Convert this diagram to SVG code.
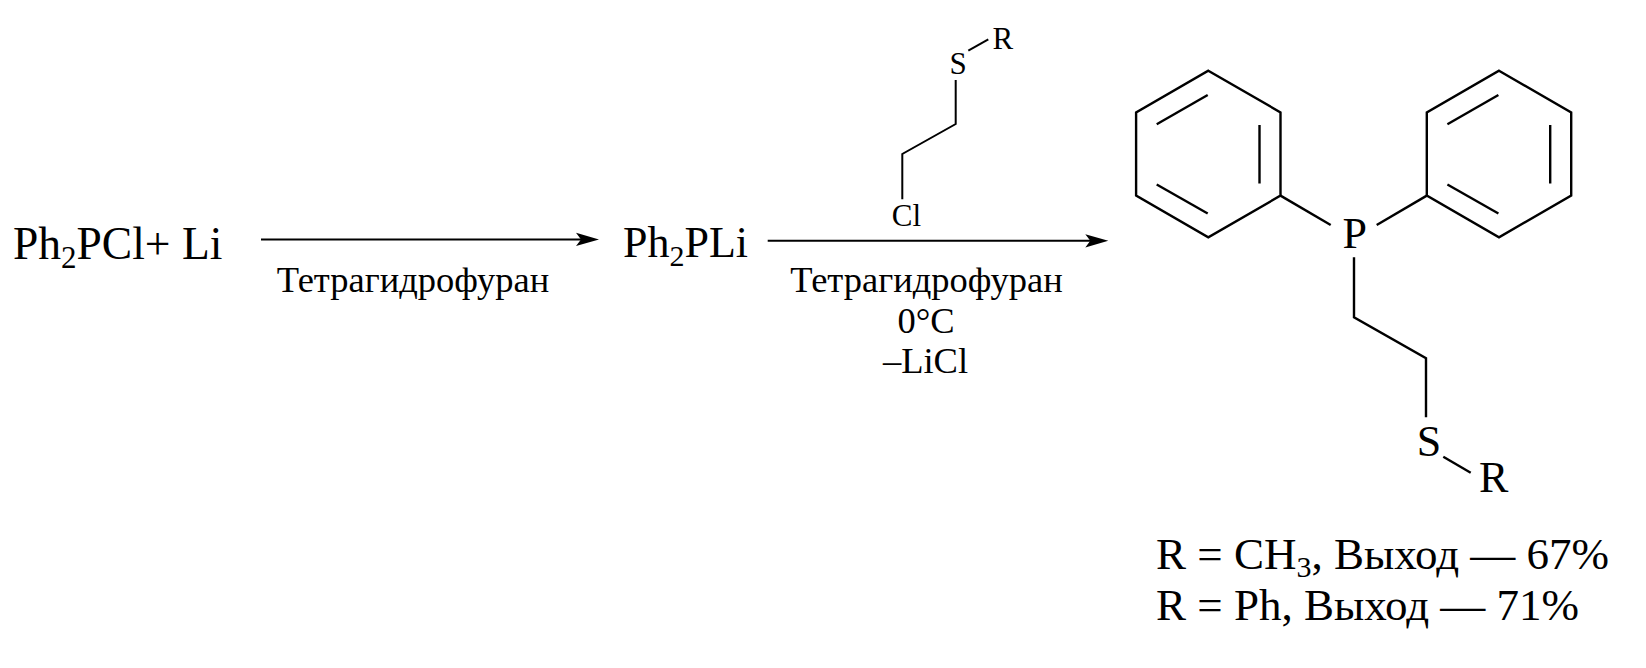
<svg xmlns="http://www.w3.org/2000/svg" width="1646" height="668" viewBox="0 0 1646 668">
<style>
text{font-family:"Liberation Serif","Times New Roman",serif;fill:#000}
.big{font-size:44px}
.big2{font-size:45.5px}
.lab{font-size:36.5px}
.small{font-size:31px}
.res{font-size:45px}
.bond{stroke:#000;stroke-width:2.4;fill:none;stroke-linecap:butt}
.thin{stroke:#000;stroke-width:2;fill:none}
.arr{stroke:#000;stroke-width:2;fill:none}
</style>
<defs>
<g id="ring">
<polygon class="bond" points="0,-83.3 72.2,-41.65 72.2,41.65 0,83.3 -72.2,41.65 -72.2,-41.65"/>
<line class="bond" x1="-51.6" y1="-29.7" x2="-0.6" y2="-59"/>
<line class="bond" x1="51.2" y1="-29" x2="51.2" y2="29.5"/>
<line class="bond" x1="-51.6" y1="30.5" x2="-0.6" y2="59.5"/>
</g>
</defs>
<rect width="1646" height="668" fill="#fff"/>

<g id="reactant">
<text class="big2" x="13" y="259">Ph<tspan font-size="31" dy="9">2</tspan><tspan dy="-9">PCl+ Li</tspan></text>
</g>

<g id="label1">
<text class="lab" x="413" y="292" text-anchor="middle">Тетрагидрофуран</text>
</g>

<g id="intermediate">
<text class="big" x="623" y="257">Ph<tspan font-size="30" dy="9">2</tspan><tspan dy="-9">PLi</tspan></text>
</g>

<g id="reagent">
<line class="thin" x1="968.3" y1="50.7" x2="988.3" y2="39.3"/>
<polyline class="thin" points="955.7,80 955.7,124 902.3,154 902.3,199.3"/>
<text class="small" x="958" y="74" text-anchor="middle">S</text>
<text class="small" x="992.5" y="48.5">R</text>
<text class="small" x="906.5" y="226" text-anchor="middle">Cl</text>
</g>

<g id="label2">
<text class="lab" x="926.5" y="292" text-anchor="middle">Тетрагидрофуран</text>
<text class="lab" x="926" y="333" text-anchor="middle">0°C</text>
<text class="lab" x="925.5" y="373" text-anchor="middle">–LiCl</text>
</g>

<g id="product">
<use href="#ring" x="1208.3" y="154"/>
<use href="#ring" x="1499" y="154"/>
<line class="bond" x1="1280.5" y1="195.65" x2="1330.7" y2="225"/>
<line class="bond" x1="1376.7" y1="225" x2="1426.8" y2="195.65"/>
<polyline class="bond" points="1354,257.3 1354,317.3 1426,358.3 1426,417.3"/>
<line class="bond" x1="1443.3" y1="456.7" x2="1470.7" y2="472.7"/>
<text class="big" x="1354.7" y="248" text-anchor="middle">P</text>
<text class="big" x="1429" y="456" text-anchor="middle">S</text>
<text class="big" x="1479" y="492">R</text>
</g>

<g id="yields">
<text class="res" x="1156" y="569">R = CH<tspan font-size="30" dy="8">3</tspan><tspan dy="-8">, Выход — 67%</tspan></text>
<text class="res" x="1156" y="620">R = Ph, Выход — 71%</text>
</g>

<g id="connectors">
<line class="arr" x1="261" y1="239.4" x2="584" y2="239.4"/>
<polygon points="599,239.4 576,232.8 581,239.4 576,246" fill="#000"/>
<line class="arr" x1="767.7" y1="240.8" x2="1093" y2="240.8"/>
<polygon points="1108.3,240.8 1085.3,234.2 1090.3,240.8 1085.3,247.4" fill="#000"/>
</g>
</svg>
